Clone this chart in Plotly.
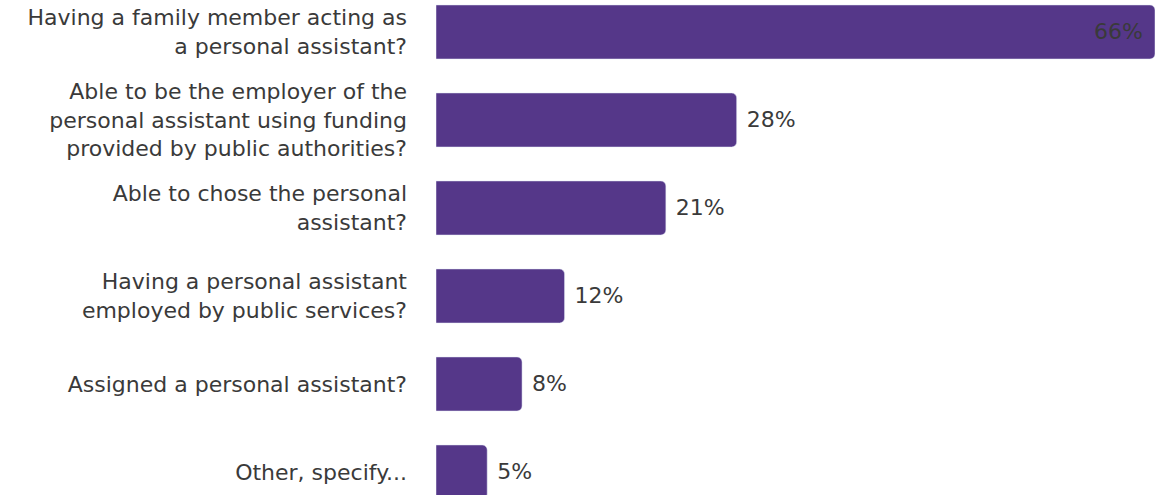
import plotly.graph_objects as go

# Data ###########################################################################################################
categories = [
    'Having a family member acting as<br>a personal assistant?',
    'Able to be the employer of the<br>personal assistant using funding<br>provided by public authorities?',
    'Able to chose the personal<br>assistant?',
    'Having a personal assistant<br>employed by public services?',
    'Assigned a personal assistant?',
    'Other, specify...',
]
percentages = [66, 27.6, 21.1, 11.8, 7.9, 4.7]

bar_color = '#553789'
text_color = '#3a3a3a'

# Only the longest bar carries its label inside
text_positions = ['inside' if v > 50 else 'outside' for v in percentages]
text_templates = ['%{x:.0f}%\u00a0' if p == 'inside' else '\u00a0%{x:.0f}%' for p in text_positions]

fig = go.Figure()

fig.add_trace(go.Bar(
    x=percentages,
    y=categories,
    orientation='h',
    marker=dict(color=bar_color, cornerradius=5),
    texttemplate=text_templates,
    textposition=text_positions,
    insidetextanchor='end',
    textfont=dict(size=22, color=text_color),
    insidetextfont=dict(size=22, color=text_color),
    outsidetextfont=dict(size=22, color=text_color),
    cliponaxis=False,
    hoverinfo='skip'
))

n = len(categories)
fig.update_layout(
    width=1159,
    height=495,
    margin=dict(l=436, r=4, t=0, b=0),
    plot_bgcolor='white',
    paper_bgcolor='white',
    font=dict(family='DejaVu Sans, Verdana, sans-serif', size=22, color=text_color),
    bargap=0.386,
    showlegend=False,
    xaxis=dict(range=[0, 66], visible=False, showgrid=False, zeroline=False),
    yaxis=dict(
        range=[n - 1 + 0.2614, -0.3636],
        showgrid=False,
        zeroline=False,
        showline=False,
        ticks='',
        ticklabelstandoff=28,
        tickfont=dict(size=22, color=text_color)
    )
)

# remove the default page margin so the figure sits at the window's corner
fig.write_html('out.html', config={'displayModeBar': False},
               post_script="document.body.style.margin='0';")
